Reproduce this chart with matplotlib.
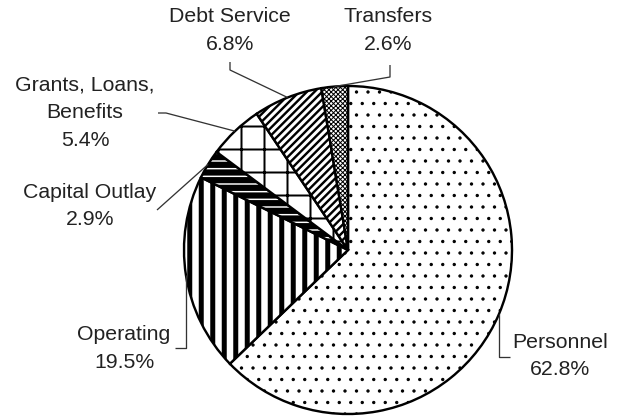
import numpy as np
import matplotlib
matplotlib.use('Agg')
import matplotlib.pyplot as plt

# ---- data ----
categories = ['Personnel', 'Operating', 'Capital Outlay',
              'Grants, Loans, Benefits', 'Debt Service', 'Transfers']
shares = [62.8, 19.5, 2.9, 5.4, 6.8, 2.6]
label_lines = [['Personnel'], ['Operating'], ['Capital Outlay'],
               ['Grants, Loans,', 'Benefits'], ['Debt Service'], ['Transfers']]

# ---- style / layout ----
W, H = 623, 418
DPI = 138          # chosen so that the hatch spacings match the reference


def px(v):
    """pixels -> points"""
    return v * 72.0 / DPI


plt.rcParams['font.family'] = ['Liberation Sans', 'DejaVu Sans']

fig = plt.figure(figsize=(W / DPI, H / DPI), dpi=DPI)
fig.patch.set_facecolor('white')
ax = fig.add_axes([0, 0, 1, 1])

CX, CY, R = 348, H - 250, 164
hatches = ['..', '||', '---', '+', '//////', 'xxxxxxxxxx']
hatch_lw_px = [1.0, 5.0, 6.2, 2.0, 2.4, 1.0]

wedges, _ = ax.pie(shares, startangle=90, counterclock=False,
                   center=(CX, CY), radius=R, colors=['white'] * len(shares),
                   wedgeprops=dict(edgecolor='black', linewidth=px(2.4)))
for w, h, lw in zip(wedges, hatches, hatch_lw_px):
    w.set_hatch(h)
    if hasattr(w, 'set_hatch_linewidth'):
        w.set_hatch_linewidth(px(lw))

ax.set_xlim(0, W)
ax.set_ylim(0, H)
ax.set_aspect('equal')
ax.axis('off')

# label text anchor (pixel coords from top) for first line centre
text_pos = [(560, 342), (124, 335), (90, 192), (85, 85), (230, 17), (388, 17)]
# leader start points (pixel coords from top); edge point appended from wedge
leader_start = [
    [(510, 357), ('ex', 357)],
    [(175, 348), ('ex', 348)],
    [(157, 210)],
    [(158, 113), (166, 113)],
    [(230, 62), (230, 70)],
    [(390, 65), (390, 77)],
]
LINE_GAP = 27.5
TXT = '#222222'

for i, w in enumerate(wedges):
    mid = np.deg2rad((w.theta1 + w.theta2) / 2)
    ex = CX + R * np.cos(mid)
    ey = CY + R * np.sin(mid)  # data coords (from bottom)
    lines = label_lines[i] + [f'{shares[i]:.1f}%']
    tx, ty = text_pos[i]
    for k, ln in enumerate(lines):
        ax.text(tx, H - (ty + k * LINE_GAP), ln, ha='center', va='center',
                fontsize=11.1, color=TXT)
    pts = []
    for (qx, qy) in leader_start[i]:
        x = ex if qx == 'ex' else qx
        pts.append((x, H - qy))
    pts.append((ex, ey))
    xs, ys = zip(*pts)
    ax.plot(xs, ys, color='#333333', lw=px(1.3), solid_capstyle='butt')

fig.savefig('out.png', dpi=DPI, facecolor='white')
